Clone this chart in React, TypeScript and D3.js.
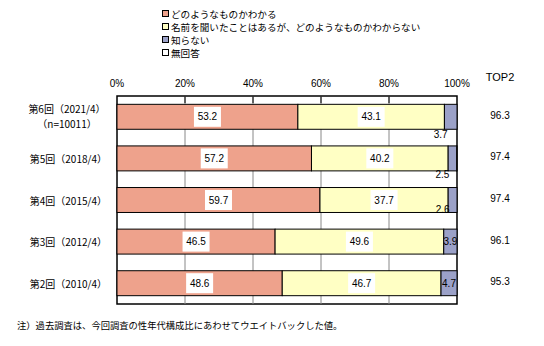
import React from "react";
import * as d3 from "d3";

const categories = ["第6回（2021/4）", "第5回（2018/4）", "第4回（2015/4）", "第3回（2012/4）", "第2回（2010/4）"];
const subLabels = ["（n=10011）", "", "", "", ""];
const know = [53.2, 57.2, 59.7, 46.5, 48.6];
const heard = [43.1, 40.2, 37.7, 49.6, 46.7];
const unknown = [3.7, 2.5, 2.6, 3.9, 4.7];
const noAnswer = [0, 0.1, 0, 0, 0];
const top2 = ["96.3", "97.4", "97.4", "96.1", "95.3"];
const ticks = [0, 20, 40, 60, 80, 100];
const seriesNames = ["どのようなものかわかる", "名前を聞いたことはあるが、どのようなものかわからない", "知らない", "無回答"];
const footnote = "注）過去調査は、今回調査の性年代構成比にあわせてウエイトバックした値。";

const colors = ["#EEA28C", "#FFFFC4", "#9BA1C8", "#FFFFFF"];
const jp = "'Noto Sans CJK JP', sans-serif";
const num = "'Liberation Sans', Arial, sans-serif";

export default function App() {
  const W = 544, H = 346;
  const left = 117, right = 457, top = 96, bottom = 304;
  const x = d3.scaleLinear().domain([0, 100]).range([left, right]);
  const y = d3.scaleBand().domain(categories).range([top, bottom]).paddingInner(0.4).paddingOuter(0.2);
  const series = [know, heard, unknown, noAnswer];
  const outsideDy = [5, 4, -3];

  return (
    <svg width={W} height={H} style={{ position: "absolute", left: 0, top: 0, background: "#fff" }}>
      {seriesNames.map((n, i) => (
        <g key={n}>
          <rect x={162.5} y={10.5 + i * 13} width={6} height={6} fill={colors[i]} stroke="#000" strokeWidth={1} />
          <text x={171} y={14 + i * 13} dominantBaseline="central" fontFamily={jp} fontSize={9.6} fill="#000">{n}</text>
        </g>
      ))}
      <rect x={left} y={top} width={right - left} height={bottom - top} fill="none" stroke="#000" strokeWidth={1.5} />
      {ticks.slice(1, -1).map((t) => (
        <g key={t}>
          <line x1={x(t)} x2={x(t)} y1={top} y2={bottom} stroke="#888" strokeWidth={1} />
          <line x1={x(t)} x2={x(t)} y1={top} y2={top + 7} stroke="#000" strokeWidth={1} />
        </g>
      ))}
      {ticks.map((t) => (
        <text key={"t" + t} x={x(t)} y={83} textAnchor="middle" dominantBaseline="central" fontFamily={num} fontSize={10} fill="#000">{t}%</text>
      ))}
      <text x={500} y={77} textAnchor="middle" dominantBaseline="central" fontFamily={num} fontSize={11} fill="#000">TOP2</text>
      {categories.map((c, i) => {
        const by = y(c)!;
        const bh = y.bandwidth();
        const cy = by + bh / 2;
        let acc = 0;
        const segs = series.map((s) => {
          const x0 = acc;
          acc += s[i];
          return { x0, x1: acc, v: s[i] };
        });
        return (
          <g key={c}>
            {segs.map((s, k) => s.v > 0 && (
              <rect key={k} x={x(s.x0)} y={by} width={x(s.x1) - x(s.x0)} height={bh} fill={colors[k]} stroke="#000" strokeWidth={1} />
            ))}
            {segs.slice(0, 2).map((s, k) => {
              const mx = (x(s.x0) + x(s.x1)) / 2;
              return (
                <g key={"l" + k}>
                  <rect x={mx - 13.5} y={cy - 10} width={27} height={20} fill="#fff" />
                  <text x={mx} y={cy} textAnchor="middle" dominantBaseline="central" fontFamily={num} fontSize={10} fill="#000">{s.v.toFixed(1)}</text>
                </g>
              );
            })}
            {(() => {
              const s = segs[2];
              const mx = (x(s.x0) + x(s.x1)) / 2;
              if (s.v >= 3.8) {
                return <text x={mx} y={cy} textAnchor="middle" dominantBaseline="central" fontFamily={num} fontSize={10} fill="#000">{s.v.toFixed(1)}</text>;
              }
              return <text x={mx - 10} y={by + bh + outsideDy[i]} textAnchor="middle" dominantBaseline="central" fontFamily={num} fontSize={10} fill="#000">{s.v.toFixed(1)}</text>;
            })()}
            {subLabels[i] ? (
              <>
                <text x={67} y={cy - 8} textAnchor="middle" dominantBaseline="central" fontFamily={jp} fontSize={10} fill="#000">{c}</text>
                <text x={67} y={cy + 7} textAnchor="middle" dominantBaseline="central" fontFamily={jp} fontSize={10} fill="#000">{subLabels[i]}</text>
              </>
            ) : (
              <text x={107} y={cy} textAnchor="end" dominantBaseline="central" fontFamily={jp} fontSize={10} fill="#000">{c}</text>
            )}
            <text x={500} y={cy - 1.5} textAnchor="middle" dominantBaseline="central" fontFamily={num} fontSize={10} fill="#000">{top2[i]}</text>
          </g>
        );
      })}
      <text x={17} y={325} dominantBaseline="central" fontFamily={jp} fontSize={9.3} fill="#000">{footnote}</text>
    </svg>
  );
}
